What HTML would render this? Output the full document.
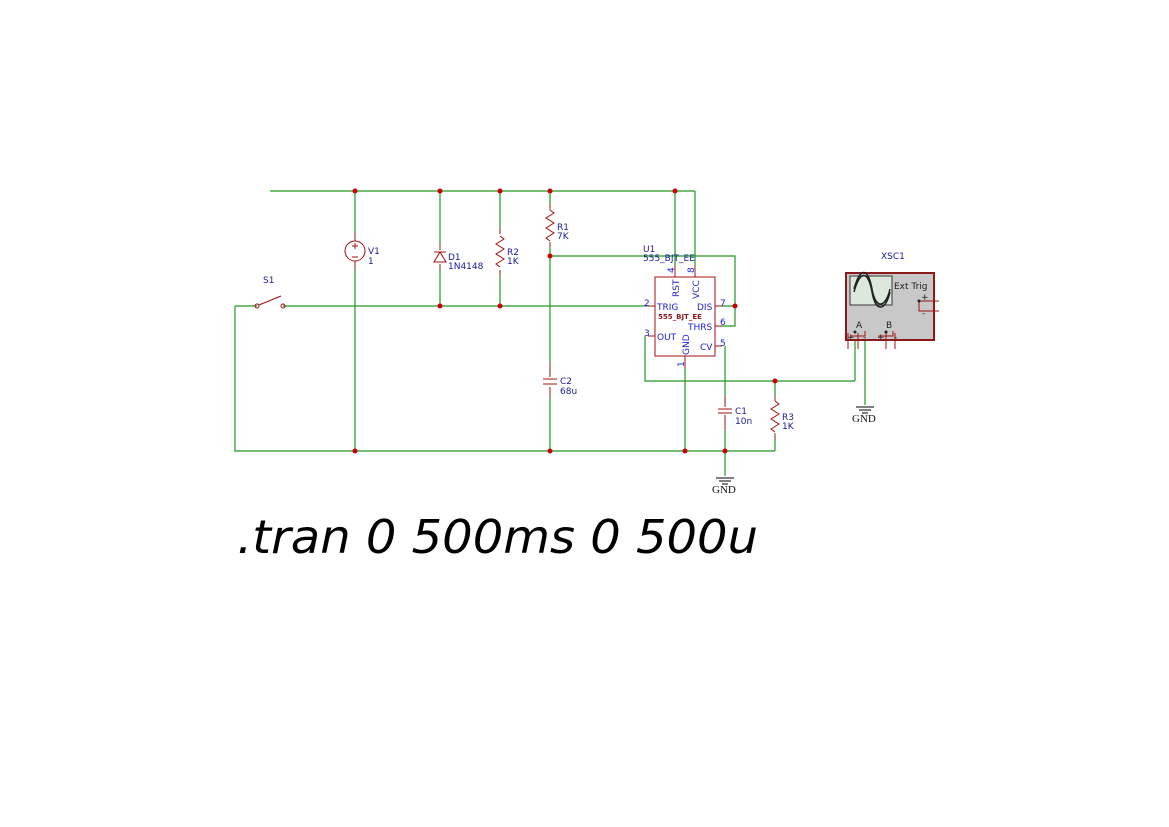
<!DOCTYPE html>
<html><head><style>body{margin:0;background:#fff}svg{display:block}</style></head><body>
<svg width="1169" height="827" viewBox="0 0 1169 827" xmlns="http://www.w3.org/2000/svg" font-family="DejaVu Sans, Liberation Sans, sans-serif">
<g stroke="#229922" stroke-width="1.2" fill="none">
<path d="M270 191H695M675 191V265M695 191V265"/>
<path d="M355 191V241M355 261V451"/>
<path d="M440 191V250M440 264V306"/>
<path d="M500 191V234M500 270V306"/>
<path d="M550 191V208M550 245V377M550 387V451"/>
<path d="M550 256H735V326H722M735 306H722"/>
<path d="M235 306H257M283 306H648M235 306V451H775"/>
<path d="M685 368V451"/>
<path d="M645 336V381H855M775 381V399M775 435V451"/>
<path d="M725 346V407M725 415V476"/>
<path d="M855 340V381M865 340V405"/>
</g>
<g stroke="#c07070" stroke-width="1.5" fill="none">
<path d="M355 232V241M355 261V270M440 244V250M440 264V270M500 227V234M500 270V276M550 204V210M550 242V248M550 362V377M550 387V398M725 395V407M725 415V430M775 396V401M775 433V440"/>
</g>
<g stroke="#a01010" stroke-width="1" fill="none">
<circle cx="355" cy="251" r="10"/>
<path d="M352 246h6M355 243v6M352 257h6"/>
<path d="M434 252h12M434 262h12L440 252Z"/>
<path d="M500 236l4 3-8 5 8 5-8 5 8 5-8 5 4 3"/>
<path d="M550 210l4 3-8 5 8 5-8 5 8 5-8 5 4 3"/>
<path d="M775 401l4 3-8 5 8 5-8 5 8 5-8 5 4 3"/>
<path d="M543 379h14M543 384h14M718 409h14M718 413h14"/>
<circle cx="257" cy="306" r="2"/><circle cx="283" cy="306" r="2"/>
<path d="M259 305L281 296"/>
<rect x="655" y="277" width="60" height="79"/>
<path d="M648 306h7M648 336h7M715 306h7M715 326h7M715 346h7M675 265v12M695 265v12M685 356v12"/>
</g>
<g stroke="#000" stroke-width="1">
<path d="M716 478h18M719 481h12M722 484h6M856 407h18M859 410h12M862 413h6"/>
</g>
<g fill="#c00">
<circle cx="355" cy="191" r="2.5"/><circle cx="440" cy="191" r="2.5"/><circle cx="500" cy="191" r="2.5"/><circle cx="550" cy="191" r="2.5"/><circle cx="675" cy="191" r="2.5"/>
<circle cx="550" cy="256" r="2.5"/><circle cx="440" cy="306" r="2.5"/><circle cx="500" cy="306" r="2.5"/><circle cx="735" cy="306" r="2.5"/>
<circle cx="355" cy="451" r="2.5"/><circle cx="550" cy="451" r="2.5"/><circle cx="685" cy="451" r="2.5"/><circle cx="725" cy="451" r="2.5"/><circle cx="775" cy="381" r="2.5"/>
</g>
<rect x="846" y="273" width="88" height="67" fill="#c8c8c8" stroke="#8b1a1a" stroke-width="2"/>
<rect x="850" y="276" width="42" height="29" fill="#dde8dd" stroke="#333"/>
<path d="M854 292c6-22 14-22 18 0s14 18 18 0M854 289c6-22 14-22 18 0s14 18 18 0" stroke="#222" stroke-width="1.5" fill="none"/>
<g stroke="#a01010" fill="none"><path d="M919 301h20M919 301v10h20M850 336h15v-5M848 333v16M878 336h15v-5M886 333v16M895 333v16M858 333v16"/></g>
<g fill="#222"><circle cx="919" cy="301" r="1.5"/><circle cx="855" cy="332" r="1.5"/><circle cx="886" cy="332" r="1.5"/></g>
<g font-size="9" fill="#222"><text x="894" y="289">Ext Trig</text><text x="921" y="300">+</text><text x="922" y="316">-</text><text x="856" y="328">A</text><text x="886" y="328">B</text><text x="847" y="340">+</text><text x="863" y="340">-</text><text x="877" y="340">+</text><text x="894" y="340">-</text></g>
<g font-size="9" fill="#1a1a9a">
<text x="263" y="283">S1</text><text x="368" y="254">V1</text><text x="368" y="264">1</text>
<text x="448" y="260">D1</text><text x="448" y="269">1N4148</text>
<text x="507" y="255">R2</text><text x="507" y="264">1K</text>
<text x="557" y="230">R1</text><text x="557" y="239">7K</text>
<text x="560" y="384">C2</text><text x="560" y="394">68u</text>
<text x="735" y="414">C1</text><text x="735" y="424">10n</text>
<text x="782" y="420">R3</text><text x="782" y="429">1K</text>
<text x="643" y="252">U1</text><text x="643" y="261">555_BJT_EE</text>
<text x="881" y="259">XSC1</text>
</g>
<g font-size="9" fill="#2020d0">
<text x="657" y="310">TRIG</text><text x="657" y="340">OUT</text><text x="697" y="310">DIS</text><text x="688" y="330">THRS</text><text x="700" y="350">CV</text>
<text x="644" y="306">2</text><text x="644" y="336">3</text><text x="720" y="306">7</text><text x="720" y="325">6</text><text x="720" y="346">5</text>
<text transform="translate(679,297) rotate(-90)">RST</text><text transform="translate(699,299) rotate(-90)">VCC</text><text transform="translate(689,355) rotate(-90)">GND</text>
<text transform="translate(674,273) rotate(-90)">4</text><text transform="translate(694,273) rotate(-90)">8</text><text transform="translate(684,367) rotate(-90)">1</text>
</g>
<text x="658" y="319" font-size="7" font-weight="bold" fill="#8b1a1a">555_BJT_EE</text>
<g font-family="Liberation Serif, serif" font-size="11" fill="#111"><text x="712" y="493">GND</text><text x="852" y="422">GND</text></g>
<text x="237" y="553" font-size="46" font-style="italic" fill="#000" textLength="521" lengthAdjust="spacingAndGlyphs">.tran 0 500ms 0 500u</text>
</svg>
</body></html>
